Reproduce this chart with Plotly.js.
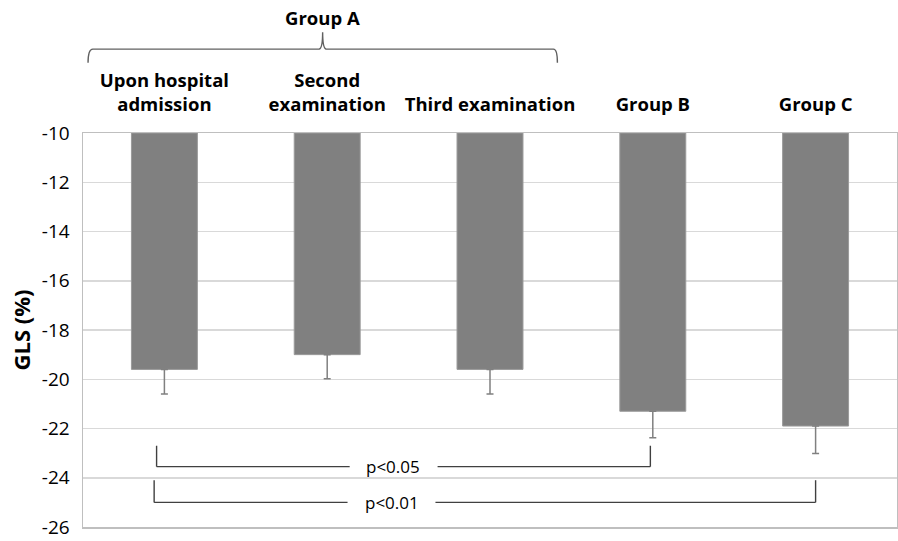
<!DOCTYPE html>
<html>
<head>
<meta charset="utf-8">
<script src="https://cdn.plot.ly/plotly-3.0.1.min.js"></script>
<style>html,body{margin:0;padding:0;background:#fff;} #chart{width:898px;height:541px;}</style>
</head>
<body>
<div id="chart"></div>
<script>
// ---- data ----
const categories = ["Upon hospital<br>admission", "Second<br>examination", "Third examination", "Group B", "Group C"];
const glsMean = [-19.6, -19.0, -19.6, -21.3, -21.9];
const glsError = [1.0, 0.98, 1.0, 1.08, 1.12];
const barBase = -10;
const yTickValues = [-26, -24, -22, -20, -18, -16, -14, -12, -10];
const groupLabel = "Group A";
const pLabels = ["p<0.05", "p<0.01"];

const FONT = "'Open Sans', Lato, sans-serif";
const lineColor = "#404040";

const trace = {
  type: "bar",
  x: categories,
  y: glsMean.map(v => v - barBase),
  base: barBase,
  width: 0.405,
  marker: {color: "#808080", line: {color: "#9a9a9a", width: 1}},
  error_y: {type: "data", symmetric: false, array: glsMean.map(() => 0), arrayminus: glsError,
            color: "#808080", thickness: 1.5, width: 3.5},
  hoverinfo: "skip"
};

function seg(x0, y0, x1, y1) {
  return {type: "line", xref: "x", yref: "y", x0, y0, x1, y1, line: {color: lineColor, width: 1.4}};
}

// comparison brackets (category indices 0->3 and 0->4)
const shapes = [
  // p<0.05 : admission vs Group B
  seg(-0.048, -22.7, -0.048, -23.55),
  seg(-0.048, -23.55, 1.138, -23.55),
  seg(1.678, -23.55, 2.985, -23.55),
  seg(2.985, -23.55, 2.985, -22.7),
  // p<0.01 : admission vs Group C
  seg(-0.063, -24.1, -0.063, -25.0),
  seg(-0.063, -25.0, 1.125, -25.0),
  seg(1.665, -25.0, 4.0, -25.0),
  seg(4.0, -25.0, 4.0, -24.1),
  // Group A brace
  {type: "path", xref: "x", yref: "paper",
   path: "M -0.469,1.178 Q -0.469,1.213 -0.44,1.213 L 0.95,1.213 Q 0.972,1.215 0.972,1.256 Q 0.972,1.215 0.994,1.213 L 2.39,1.213 Q 2.414,1.213 2.414,1.178",
   line: {color: "#606060", width: 1.4}}
];

const annotations = [
  {text: groupLabel, xref: "x", yref: "paper", x: 0.972, y: 1.294, showarrow: false,
   font: {family: FONT, size: 18.5, color: "#000", weight: "bold"}, xanchor: "center", yanchor: "middle"},
  {text: pLabels[0], xref: "x", yref: "y", x: 1.405, y: -23.55, showarrow: false,
   font: {family: FONT, size: 17, color: "#000"}, xanchor: "center", yanchor: "middle"},
  {text: pLabels[1], xref: "x", yref: "y", x: 1.395, y: -25.0, showarrow: false,
   font: {family: FONT, size: 17, color: "#000"}, xanchor: "center", yanchor: "middle"}
];

const layout = {
  width: 898, height: 541,
  margin: {l: 83, r: 1, t: 133, b: 14},
  paper_bgcolor: "#fff", plot_bgcolor: "#fff",
  showlegend: false,
  xaxis: {
    side: "top", type: "category",
    tickfont: {family: FONT, size: 18.5, color: "#000", weight: "bold"},
    ticks: "", ticklabelstandoff: 13,
    showline: true, mirror: true, linecolor: "#bfbfbf", linewidth: 1.5,
    showgrid: false, fixedrange: true
  },
  yaxis: {
    range: [-26, -10], tickvals: yTickValues, ticktext: yTickValues.map(v => "-" + Math.abs(v)),
    tickfont: {family: FONT, size: 19, color: "#000"},
    ticks: "", ticklabelstandoff: 8,
    showgrid: true, gridcolor: "#d9d9d9", gridwidth: 1.5,
    zeroline: false,
    showline: true, mirror: true, linecolor: "#bfbfbf", linewidth: 1.5,
    title: {text: "GLS (%)", font: {family: FONT, size: 22, color: "#000", weight: "bold"}, standoff: 5},
    fixedrange: true
  },
  shapes, annotations
};

Plotly.newPlot("chart", [trace], layout, {displayModeBar: false, staticPlot: true});
</script>
</body>
</html>
